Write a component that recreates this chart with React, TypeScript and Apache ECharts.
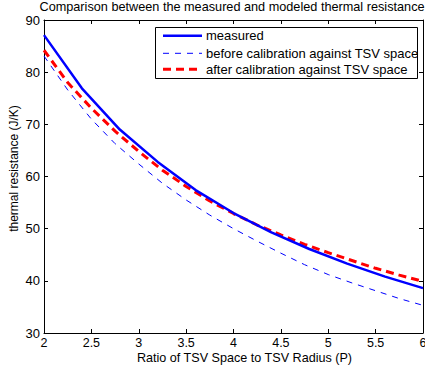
import React, { useEffect, useRef } from "react";
import * as echarts from "echarts";

const titleText = "Comparison between the measured and modeled thermal resistance";
const xName = "Ratio of TSV Space to TSV Radius (P)";
const yName = "thermal resistance (J/K)";
const seriesNames = [
  "measured",
  "before calibration against TSV space",
  "after calibration against TSV space",
];

const measuredX = [2.0, 2.4, 2.8, 3.2, 3.6, 4.0, 4.4, 4.8, 5.2, 5.6, 6.0];
const measuredY = [87.1, 76.9, 69.0, 62.8, 57.4, 53.0, 49.3, 46.1, 43.3, 40.8, 38.6];

const modelX = [2.0, 2.25, 2.5, 2.75, 3.0, 3.25, 3.5, 3.75, 4.0, 4.25, 4.5, 4.75, 5.0, 5.25, 5.5, 5.75, 6.0];
const beforeY = [83.1, 76.6, 71.0, 66.3, 62.4, 58.7, 55.5, 52.6, 50.0, 47.6, 45.3, 43.1, 41.2, 39.6, 38.1, 36.6, 35.3];
const afterY = [84.2, 78.0, 73.1, 68.7, 64.8, 61.2, 58.1, 55.3, 52.9, 50.7, 48.8, 47.0, 45.4, 43.9, 42.4, 41.1, 39.9];

const xMin = 2, xMax = 6, xStep = 0.5;
const yMin = 30, yMax = 90, yStep = 10;

const FONT = "'Liberation Sans', Arial, Helvetica, sans-serif";

const seriesStyles = [
  { color: "#0000ff", width: 2.5, dash: null as number[] | null },
  { color: "#0000ff", width: 1, dash: [6, 6] },
  { color: "#ff0000", width: 3, dash: [8, 5] },
];

export default function App() {
  const ref = useRef<HTMLDivElement>(null);
  useEffect(() => {
    document.body.style.margin = "0";
    if (!ref.current) return;
    const chart = echarts.init(ref.current, undefined, { renderer: "svg" });
    const zip = (xs: number[], ys: number[]) => xs.map((x, i) => [x, ys[i]]);
    const axisCommon = {
      type: "value" as const,
      axisLine: { show: true, onZero: false, lineStyle: { color: "#000", width: 1 } },
      axisTick: { show: true, inside: true, length: 4, lineStyle: { color: "#000" } },
      splitLine: { show: false },
    };

    const legendTop = 27.5;
    const legendLeft = 155.5;
    const rowY = [35.7, 53.3, 69.3];
    const legendGraphics: any[] = [
      {
        type: "rect",
        shape: { x: legendLeft, y: legendTop, width: 262, height: 51 },
        style: { fill: "#fff", stroke: "#000", lineWidth: 1 },
        z: 100,
      },
    ];
    seriesNames.forEach((name, i) => {
      const s = seriesStyles[i];
      legendGraphics.push({
        type: "line",
        shape: { x1: 163, y1: rowY[i], x2: 202, y2: rowY[i] },
        style: {
          stroke: s.color,
          lineWidth: s.width,
          lineDash: s.dash || undefined,
        },
        z: 101,
      });
      legendGraphics.push({
        type: "text",
        x: 206,
        y: rowY[i],
        style: {
          text: name,
          fontSize: 13,
          fontFamily: FONT,
          fill: "#000",
          align: "left",
          verticalAlign: "middle",
        },
        z: 101,
      });
    });

    chart.setOption({
      animation: false,
      backgroundColor: "#fff",
      textStyle: { fontFamily: FONT },
      grid: { left: 44, right: 2, top: 20, bottom: 41, outerBoundsMode: "none", containLabel: false },
      xAxis: [
        {
          ...axisCommon,
          position: "bottom",
          min: xMin, max: xMax, interval: xStep,
          axisLabel: { color: "#000", fontSize: 12.5, lineHeight: 14, margin: 3, fontFamily: FONT },
        },
        {
          ...axisCommon,
          position: "top",
          min: xMin, max: xMax, interval: xStep,
          axisLabel: { show: false },
        },
      ],
      yAxis: [
        {
          ...axisCommon,
          position: "left",
          min: yMin, max: yMax, interval: yStep,
          axisLabel: { color: "#000", fontSize: 13, margin: 4, fontFamily: FONT },
        },
        {
          ...axisCommon,
          position: "right",
          min: yMin, max: yMax, interval: yStep,
          axisLabel: { show: false },
        },
      ],
      graphic: [
        {
          type: "text",
          x: 232,
          y: 7,
          style: {
            text: titleText,
            fontSize: 12.7,
            fontFamily: FONT,
            fill: "#000",
            align: "center",
            verticalAlign: "middle",
          },
        },
        {
          type: "text",
          x: 244.5,
          y: 358,
          style: {
            text: xName,
            fontSize: 12.6,
            lineHeight: 13,
            fontFamily: FONT,
            fill: "#000",
            align: "center",
            verticalAlign: "middle",
          },
        },
        {
          type: "text",
          x: 14,
          y: 168.5,
          rotation: Math.PI / 2,
          style: {
            text: yName,
            fontSize: 12,
            fontFamily: FONT,
            fill: "#000",
            align: "center",
            verticalAlign: "middle",
          },
        },
        ...legendGraphics,
      ],
      series: [
        {
          name: seriesNames[0],
          type: "line",
          symbol: "none",
          data: zip(measuredX, measuredY),
          lineStyle: { color: seriesStyles[0].color, width: seriesStyles[0].width, type: "solid" },
          z: 3,
        },
        {
          name: seriesNames[1],
          type: "line",
          symbol: "none",
          data: zip(modelX, beforeY),
          lineStyle: { color: seriesStyles[1].color, width: seriesStyles[1].width, type: seriesStyles[1].dash },
          z: 2,
        },
        {
          name: seriesNames[2],
          type: "line",
          symbol: "none",
          data: zip(modelX, afterY),
          lineStyle: { color: seriesStyles[2].color, width: seriesStyles[2].width, type: seriesStyles[2].dash },
          z: 2,
        },
      ],
    });
    return () => chart.dispose();
  }, []);
  return <div ref={ref} style={{ width: 425, height: 374 }} />;
}
